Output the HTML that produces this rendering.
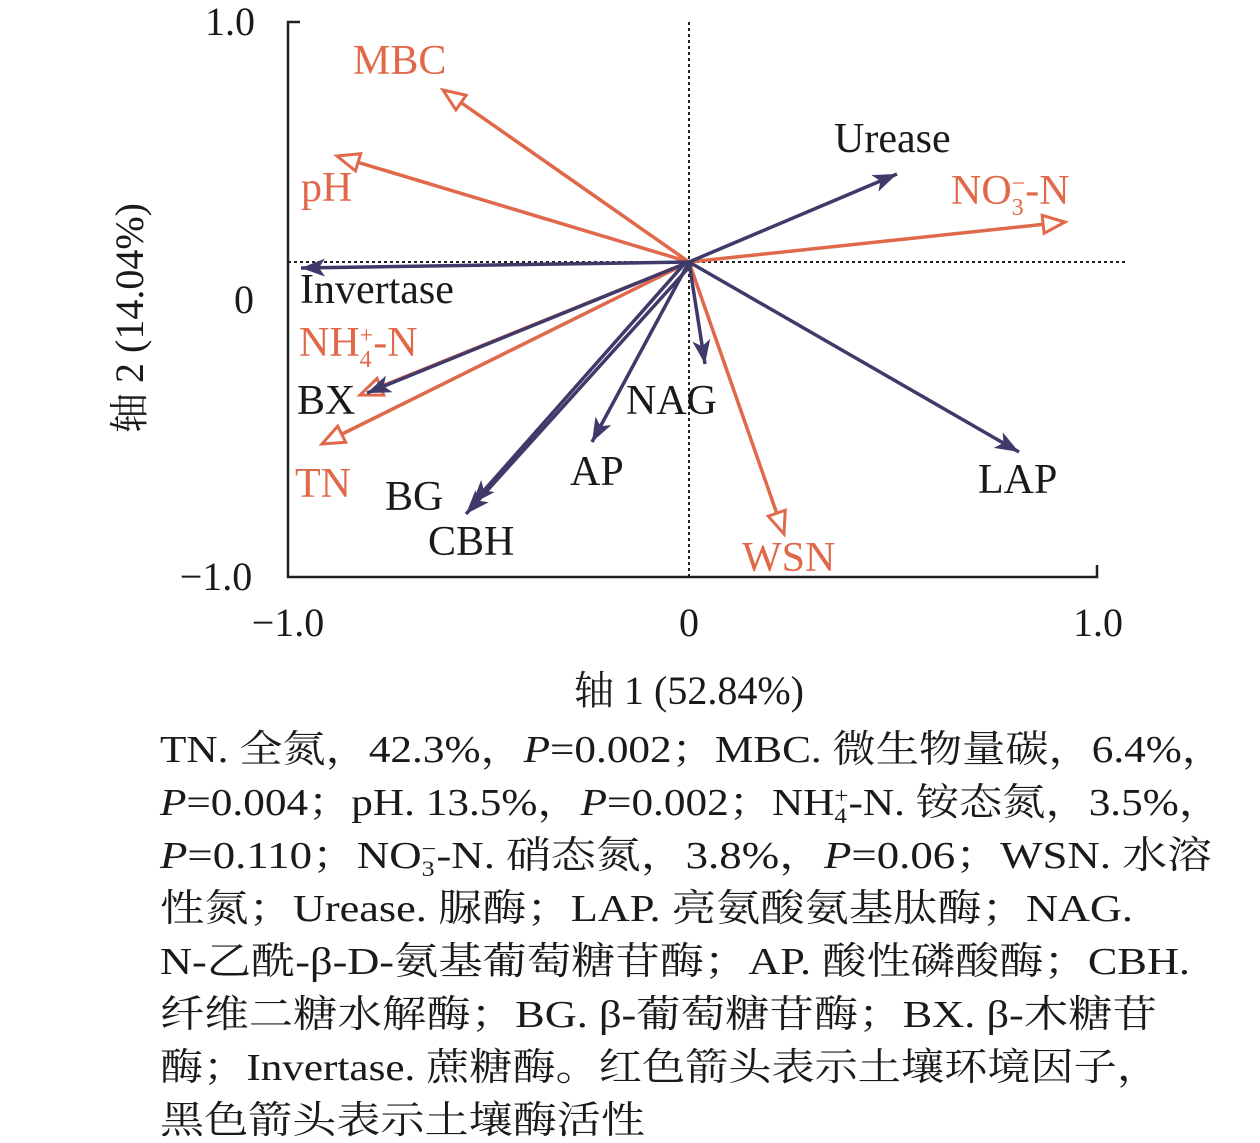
<!DOCTYPE html>
<html><head><meta charset="utf-8"><style>
html,body{margin:0;padding:0;background:#fff;}
svg{display:block;}
text{font-family:"Liberation Serif","Noto Serif CJK SC",serif;}
</style></head><body>
<svg width="1260" height="1143" viewBox="0 0 1260 1143" xmlns="http://www.w3.org/2000/svg">
<defs>
<marker id="o" refX="0" refY="0" markerWidth="40" markerHeight="40" markerUnits="userSpaceOnUse" orient="auto" overflow="visible">
<path d="M-22,-9 L0,0 L-22,9 Z" fill="#fff" stroke="#e0694a" stroke-width="3"/>
</marker>
<marker id="n" refX="0" refY="0" markerWidth="40" markerHeight="40" markerUnits="userSpaceOnUse" orient="auto" overflow="visible">
<path d="M-24,-9 L0,0 L-24,9 L-18,0 Z" fill="#3f3a6a"/>
</marker>
</defs>
<!-- axes -->
<path d="M300,22 H288 V577 H1097 V565" fill="none" stroke="#222" stroke-width="2.5"/>
<line x1="689" y1="22" x2="689" y2="577" stroke="#222" stroke-width="2" stroke-dasharray="3,3"/>
<line x1="288" y1="262" x2="1125" y2="262" stroke="#222" stroke-width="2" stroke-dasharray="3,3"/>
<!-- orange arrows -->
<g stroke="#e0694a" stroke-width="3.5" fill="none">
<line x1="689" y1="262" x2="443" y2="90" marker-end="url(#o)"/>
<line x1="689" y1="262" x2="337" y2="156" marker-end="url(#o)"/>
<line x1="689" y1="262" x2="1065" y2="222" marker-end="url(#o)"/>
<line x1="689" y1="262" x2="360" y2="395" marker-end="url(#o)"/>
<line x1="689" y1="262" x2="322" y2="444" marker-end="url(#o)"/>
<line x1="689" y1="262" x2="784" y2="534" marker-end="url(#o)"/>
</g>
<!-- navy arrows -->
<g stroke="#3f3a6a" stroke-width="3.5" fill="none">
<line x1="689" y1="262" x2="897" y2="174" marker-end="url(#n)"/>
<line x1="689" y1="262" x2="301" y2="268" marker-end="url(#n)"/>
<line x1="689" y1="262" x2="367" y2="393" marker-end="url(#n)"/>
<line x1="686" y1="262" x2="472" y2="504" marker-end="url(#n)"/>
<line x1="692" y1="264" x2="466" y2="514" marker-end="url(#n)"/>
<line x1="689" y1="262" x2="592" y2="442" marker-end="url(#n)"/>
<line x1="689" y1="262" x2="705" y2="364" marker-end="url(#n)"/>
<line x1="689" y1="262" x2="1019" y2="452" marker-end="url(#n)"/>
</g>
<!-- labels -->
<g font-size="42" fill="#e0694a">
<text x="353" y="74">MBC</text>
<text x="301" y="201">pH</text>
<text x="951" y="204">NO<tspan font-size="24" dy="11">3</tspan><tspan font-size="24" dx="-12" dy="-24">−</tspan><tspan dy="13">-N</tspan></text>
<text x="299" y="356">NH<tspan font-size="24" dy="11">4</tspan><tspan font-size="24" dx="-12" dy="-24">+</tspan><tspan dy="13">-N</tspan></text>
<text x="295" y="497">TN</text>
<text x="742" y="571">WSN</text>
</g>
<g font-size="42" fill="#1a1a1a">
<text x="834" y="152">Urease</text>
<text x="300" y="303">Invertase</text>
<text x="297" y="414">BX</text>
<text x="626" y="414">NAG</text>
<text x="570" y="485">AP</text>
<text x="385" y="510">BG</text>
<text x="428" y="555">CBH</text>
<text x="978" y="493">LAP</text>
</g>
<!-- ticks -->
<g font-size="40" fill="#1a1a1a">
<text x="230" y="35" text-anchor="middle">1.0</text>
<text x="244" y="313" text-anchor="middle">0</text>
<text x="216" y="590" text-anchor="middle">−1.0</text>
<text x="288" y="636" text-anchor="middle">−1.0</text>
<text x="689" y="636" text-anchor="middle">0</text>
<text x="1098" y="636" text-anchor="middle">1.0</text>
<text x="689" y="704" text-anchor="middle">轴 1 (52.84%)</text>
<text transform="translate(143,318) rotate(-90)" text-anchor="middle">轴 2 (14.04%)</text>
</g>
<!-- caption -->
<g font-size="38" fill="#1a1a1a">
<text x="160" y="762" textLength="1065" lengthAdjust="spacingAndGlyphs">TN. 全氮，42.3%，<tspan font-style="italic">P</tspan>=0.002；MBC. 微生物量碳，6.4%，</text>
<text x="160" y="815" textLength="1062" lengthAdjust="spacingAndGlyphs"><tspan font-style="italic">P</tspan>=0.004；pH. 13.5%，<tspan font-style="italic">P</tspan>=0.002；NH<tspan font-size="22" dy="8">4</tspan><tspan font-size="22" dx="-11" dy="-20">+</tspan><tspan dy="12">-N. 铵态氮，3.5%，</tspan></text>
<text x="160" y="868" textLength="1052" lengthAdjust="spacingAndGlyphs"><tspan font-style="italic">P</tspan>=0.110；NO<tspan font-size="22" dy="8">3</tspan><tspan font-size="22" dx="-11" dy="-20">−</tspan><tspan dy="12">-N. 硝态氮，3.8%，</tspan><tspan font-style="italic">P</tspan>=0.06；WSN. 水溶</text>
<text x="160" y="921" textLength="973" lengthAdjust="spacingAndGlyphs">性氮；Urease. 脲酶；LAP. 亮氨酸氨基肽酶；NAG.</text>
<text x="160" y="974" textLength="1030" lengthAdjust="spacingAndGlyphs">N-乙酰-β-D-氨基葡萄糖苷酶；AP. 酸性磷酸酶；CBH.</text>
<text x="160" y="1027" textLength="997" lengthAdjust="spacingAndGlyphs">纤维二糖水解酶；BG. β-葡萄糖苷酶；BX. β-木糖苷</text>
<text x="160" y="1080" textLength="1000" lengthAdjust="spacingAndGlyphs">酶；Invertase. 蔗糖酶。红色箭头表示土壤环境因子，</text>
<text x="160" y="1133" textLength="485" lengthAdjust="spacingAndGlyphs">黑色箭头表示土壤酶活性</text>
</g>
</svg>
</body></html>
